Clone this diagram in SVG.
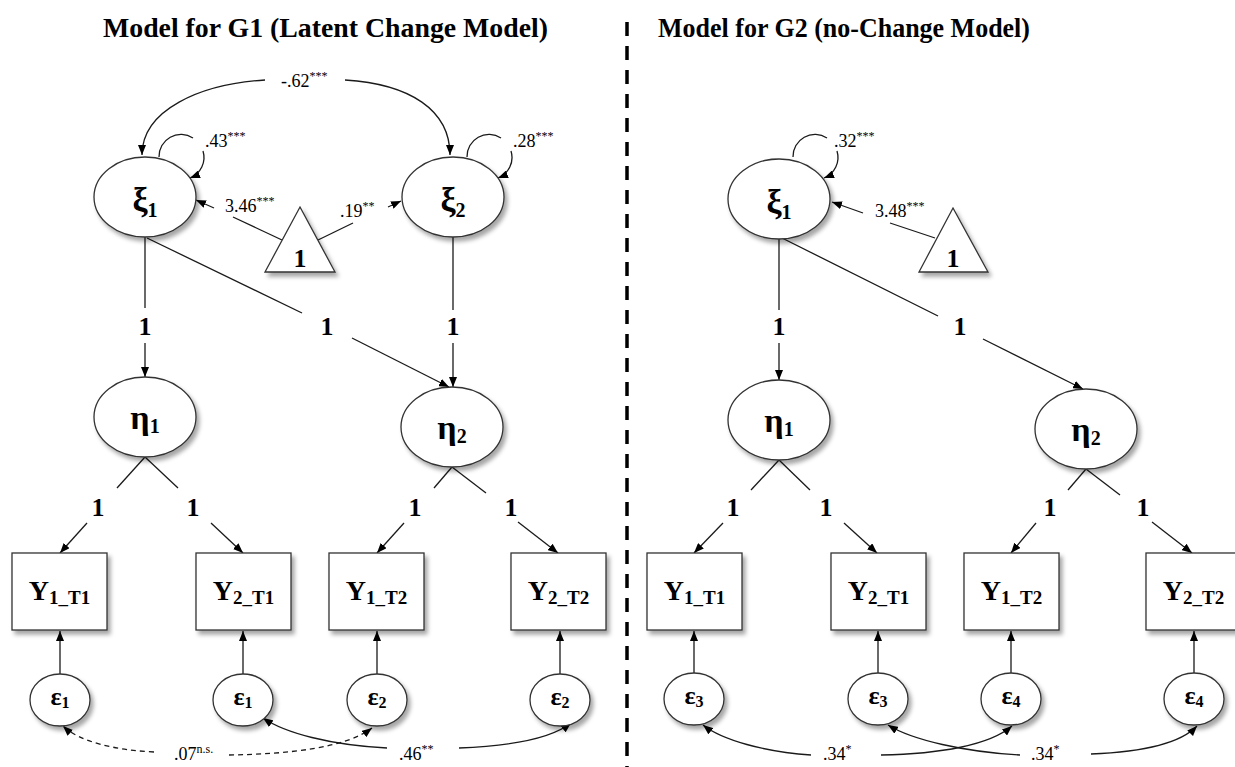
<svg xmlns="http://www.w3.org/2000/svg" width="1235" height="767" viewBox="0 0 1235 767">
<style>
text { font-family: "Liberation Serif", "Times New Roman", serif; fill: #000; }
.title { font-size: 28px; font-weight: bold; }
.lab { font-size: 18px; }
.sup { font-size: 12px; }
.one { font-size: 26px; font-weight: bold; text-anchor: middle; }
.gr { font-size: 34px; font-weight: bold; text-anchor: middle; }
.grs { font-size: 20px; }
.y { font-size: 28px; font-weight: bold; text-anchor: middle; }
.ys { font-size: 19px; }
.eps { font-size: 26px; font-weight: bold; text-anchor: middle; }
.epss { font-size: 16px; }
.node { fill: #fff; stroke: #333; stroke-width: 1.3; filter: url(#sh); }
.edge { fill: none; stroke: #1a1a1a; stroke-width: 1.3; }
.arr { marker-end: url(#ah); }
.dash { stroke-dasharray: 5 4; }
</style>
<defs>
<filter id="sh" x="-20%" y="-20%" width="150%" height="150%">
<feDropShadow dx="3" dy="4" stdDeviation="2" flood-color="#000" flood-opacity="0.35"/>
</filter>
<marker id="ah" markerUnits="userSpaceOnUse" markerWidth="10" markerHeight="8" refX="10" refY="4" orient="auto">
<path d="M0,0 L10,4 L0,8 z" fill="#000"/>
</marker>
</defs>
<rect width="1235" height="767" fill="#fff"/>

<text class="title" x="103" y="37" textLength="445" lengthAdjust="spacingAndGlyphs">Model for G1 (Latent Change Model)</text>
<text class="title" x="658" y="37" textLength="372" lengthAdjust="spacingAndGlyphs">Model for G2 (no-Change Model)</text>
<line x1="627" y1="22" x2="627" y2="767" stroke="#000" stroke-width="3.5" stroke-dasharray="14 10"/>

<g id="connectors">
<!-- G1 -->
<path class="edge arr" d="M265,80 C200,84 142,110 142,155"/>
<path class="edge arr" d="M345,80 C410,84 450,110 450,155"/>
<path class="edge" d="M159,157 A22,22 0 0 1 193,138"/>
<path class="edge arr" d="M203,151 A22,22 0 0 1 190,178"/>
<path class="edge" d="M467,157 A22,22 0 0 1 501,138"/>
<path class="edge arr" d="M511,151 A22,22 0 0 1 498,178"/>
<path class="edge" d="M282,240 L233,217"/>
<path class="edge arr" d="M214,208 L196,200"/>
<path class="edge" d="M318,240 L353,223"/>
<path class="edge arr" d="M388,207 L401,201"/>
<path class="edge" d="M145,237 L145,308"/>
<path class="edge arr" d="M145,343 L145,377"/>
<path class="edge" d="M147,238 L302,313"/>
<path class="edge arr" d="M352,338 L449,387"/>
<path class="edge" d="M453,237 L453,310"/>
<path class="edge arr" d="M453,343 L453,387"/>
<path class="edge" d="M145,457 L117,488"/>
<path class="edge arr" d="M87,523 L60,553"/>
<path class="edge" d="M145,457 L178,488"/>
<path class="edge arr" d="M211,523 L243,553"/>
<path class="edge" d="M452,467 L434,488"/>
<path class="edge arr" d="M404,523 L377,553"/>
<path class="edge" d="M452,467 L486,493"/>
<path class="edge arr" d="M518,522 L558,553"/>
<path class="edge arr" d="M60,674 L60,631"/>
<path class="edge arr" d="M243,674 L243,631"/>
<path class="edge arr" d="M377,674 L377,631"/>
<path class="edge arr" d="M560,674 L560,631"/>
<path class="edge arr dash" d="M154,752 C115,750 80,742 63,726"/>
<path class="edge arr dash" d="M229,755 C290,754 345,748 372,728"/>
<path class="edge arr" d="M387,748 C330,745 285,733 263,718"/>
<path class="edge arr" d="M459,748 C510,746 552,738 571,723"/>
<!-- G2 -->
<path class="edge" d="M793,157 A22,22 0 0 1 827,138"/>
<path class="edge arr" d="M837,151 A22,22 0 0 1 824,178"/>
<path class="edge" d="M935,238 L890,223"/>
<path class="edge arr" d="M863,213 L832,202"/>
<path class="edge" d="M779,239 L779,310"/>
<path class="edge arr" d="M779,343 L779,380"/>
<path class="edge" d="M782,238 L938,316"/>
<path class="edge arr" d="M983,339 L1083,389"/>
<path class="edge" d="M779,460 L751,490"/>
<path class="edge arr" d="M723,523 L694,553"/>
<path class="edge" d="M779,460 L810,490"/>
<path class="edge arr" d="M844,523 L877,553"/>
<path class="edge" d="M1086,469 L1068,490"/>
<path class="edge arr" d="M1036,523 L1011,553"/>
<path class="edge" d="M1086,469 L1120,495"/>
<path class="edge arr" d="M1152,522 L1192,553"/>
<path class="edge arr" d="M694,673 L694,631"/>
<path class="edge arr" d="M878,673 L878,631"/>
<path class="edge arr" d="M1011,673 L1011,631"/>
<path class="edge arr" d="M1194,673 L1194,631"/>
<path class="edge arr" d="M811,755 C765,752 722,740 703,725"/>
<path class="edge arr" d="M881,755 C940,754 990,745 1012,726"/>
<path class="edge arr" d="M1020,755 C965,752 912,740 888,725"/>
<path class="edge arr" d="M1091,754 C1140,752 1180,744 1197,726"/>
</g>

<g id="edge-labels">
<text class="lab" x="281" y="87">-.62<tspan class="sup" dy="-7">***</tspan></text>
<text class="lab" x="205" y="147">.43<tspan class="sup" dy="-7">***</tspan></text>
<text class="lab" x="513" y="147">.28<tspan class="sup" dy="-7">***</tspan></text>
<text class="lab" x="225" y="212">3.46<tspan class="sup" dy="-7">***</tspan></text>
<text class="lab" x="340" y="217">.19<tspan class="sup" dy="-7">**</tspan></text>
<text class="one" x="145" y="335">1</text>
<text class="one" x="327" y="335">1</text>
<text class="one" x="453" y="335">1</text>
<text class="one" x="98" y="516">1</text>
<text class="one" x="193" y="516">1</text>
<text class="one" x="415" y="516">1</text>
<text class="one" x="511" y="516">1</text>
<text class="lab" x="174" y="760">.07<tspan class="sup" font-size="11" dy="-7">n.s.</tspan></text>
<text class="lab" x="399" y="760">.46<tspan class="sup" dy="-7">**</tspan></text>
<text class="lab" x="834" y="147">.32<tspan class="sup" dy="-7">***</tspan></text>
<text class="lab" x="875" y="217">3.48<tspan class="sup" dy="-7">***</tspan></text>
<text class="one" x="779" y="335">1</text>
<text class="one" x="960" y="335">1</text>
<text class="one" x="733" y="516">1</text>
<text class="one" x="826" y="516">1</text>
<text class="one" x="1050" y="516">1</text>
<text class="one" x="1143" y="516">1</text>
<text class="lab" x="823" y="760">.34<tspan class="sup" dy="-7">*</tspan></text>
<text class="lab" x="1031" y="760">.34<tspan class="sup" dy="-7">*</tspan></text>
</g>

<!-- G1 nodes -->
<g id="g1-xi1"><ellipse class="node" cx="145" cy="197" rx="51" ry="40"/><text class="gr" x="145" y="211">ξ<tspan class="grs" dy="6">1</tspan></text></g>
<g id="g1-xi2"><ellipse class="node" cx="453" cy="197" rx="51" ry="40"/><text class="gr" x="453" y="211">ξ<tspan class="grs" dy="6">2</tspan></text></g>
<g id="g1-const"><polygon class="node" points="300,207 335,272 265,272"/><text class="one" x="300" y="267">1</text></g>
<g id="g1-eta1"><ellipse class="node" cx="145" cy="417" rx="51" ry="40"/><text class="gr" x="145" y="429">η<tspan class="grs" dy="4">1</tspan></text></g>
<g id="g1-eta2"><ellipse class="node" cx="452" cy="427" rx="51" ry="40"/><text class="gr" x="452" y="439">η<tspan class="grs" dy="4">2</tspan></text></g>
<g id="g1-y1t1"><rect class="node" x="12" y="553" width="95" height="77"/><text class="y" x="59.5" y="600">Y<tspan class="ys" dy="4">1_T1</tspan></text></g>
<g id="g1-y2t1"><rect class="node" x="196" y="553" width="95" height="77"/><text class="y" x="243.5" y="600">Y<tspan class="ys" dy="4">2_T1</tspan></text></g>
<g id="g1-y1t2"><rect class="node" x="329" y="553" width="95" height="77"/><text class="y" x="376.5" y="600">Y<tspan class="ys" dy="4">1_T2</tspan></text></g>
<g id="g1-y2t2"><rect class="node" x="511" y="553" width="95" height="77"/><text class="y" x="558.5" y="600">Y<tspan class="ys" dy="4">2_T2</tspan></text></g>
<g id="g1-e1a"><ellipse class="node" cx="60" cy="700" rx="30" ry="26"/><text class="eps" x="60" y="705">ε<tspan class="epss" dy="3">1</tspan></text></g>
<g id="g1-e1b"><ellipse class="node" cx="243" cy="700" rx="30" ry="26"/><text class="eps" x="243" y="705">ε<tspan class="epss" dy="3">1</tspan></text></g>
<g id="g1-e2a"><ellipse class="node" cx="377" cy="700" rx="30" ry="26"/><text class="eps" x="377" y="705">ε<tspan class="epss" dy="3">2</tspan></text></g>
<g id="g1-e2b"><ellipse class="node" cx="560" cy="700" rx="30" ry="26"/><text class="eps" x="560" y="705">ε<tspan class="epss" dy="3">2</tspan></text></g>

<!-- G2 nodes -->
<g id="g2-xi1"><ellipse class="node" cx="779" cy="199" rx="51" ry="40"/><text class="gr" x="779" y="213">ξ<tspan class="grs" dy="6">1</tspan></text></g>
<g id="g2-const"><polygon class="node" points="953,208 988,272 919,272"/><text class="one" x="953" y="267">1</text></g>
<g id="g2-eta1"><ellipse class="node" cx="779" cy="420" rx="51" ry="40"/><text class="gr" x="779" y="432">η<tspan class="grs" dy="4">1</tspan></text></g>
<g id="g2-eta2"><ellipse class="node" cx="1086" cy="429" rx="51" ry="40"/><text class="gr" x="1086" y="441">η<tspan class="grs" dy="4">2</tspan></text></g>
<g id="g2-y1t1"><rect class="node" x="647" y="553" width="95" height="77"/><text class="y" x="694.5" y="600">Y<tspan class="ys" dy="4">1_T1</tspan></text></g>
<g id="g2-y2t1"><rect class="node" x="831" y="553" width="95" height="77"/><text class="y" x="878.5" y="600">Y<tspan class="ys" dy="4">2_T1</tspan></text></g>
<g id="g2-y1t2"><rect class="node" x="964" y="553" width="95" height="77"/><text class="y" x="1011.5" y="600">Y<tspan class="ys" dy="4">1_T2</tspan></text></g>
<g id="g2-y2t2"><rect class="node" x="1146" y="553" width="95" height="77"/><text class="y" x="1193.5" y="600">Y<tspan class="ys" dy="4">2_T2</tspan></text></g>
<g id="g2-e3a"><ellipse class="node" cx="694" cy="699" rx="30" ry="26"/><text class="eps" x="694" y="704">ε<tspan class="epss" dy="3">3</tspan></text></g>
<g id="g2-e3b"><ellipse class="node" cx="878" cy="699" rx="30" ry="26"/><text class="eps" x="878" y="704">ε<tspan class="epss" dy="3">3</tspan></text></g>
<g id="g2-e4a"><ellipse class="node" cx="1011" cy="699" rx="30" ry="26"/><text class="eps" x="1011" y="704">ε<tspan class="epss" dy="3">4</tspan></text></g>
<g id="g2-e4b"><ellipse class="node" cx="1194" cy="699" rx="30" ry="26"/><text class="eps" x="1194" y="704">ε<tspan class="epss" dy="3">4</tspan></text></g>
</svg>
